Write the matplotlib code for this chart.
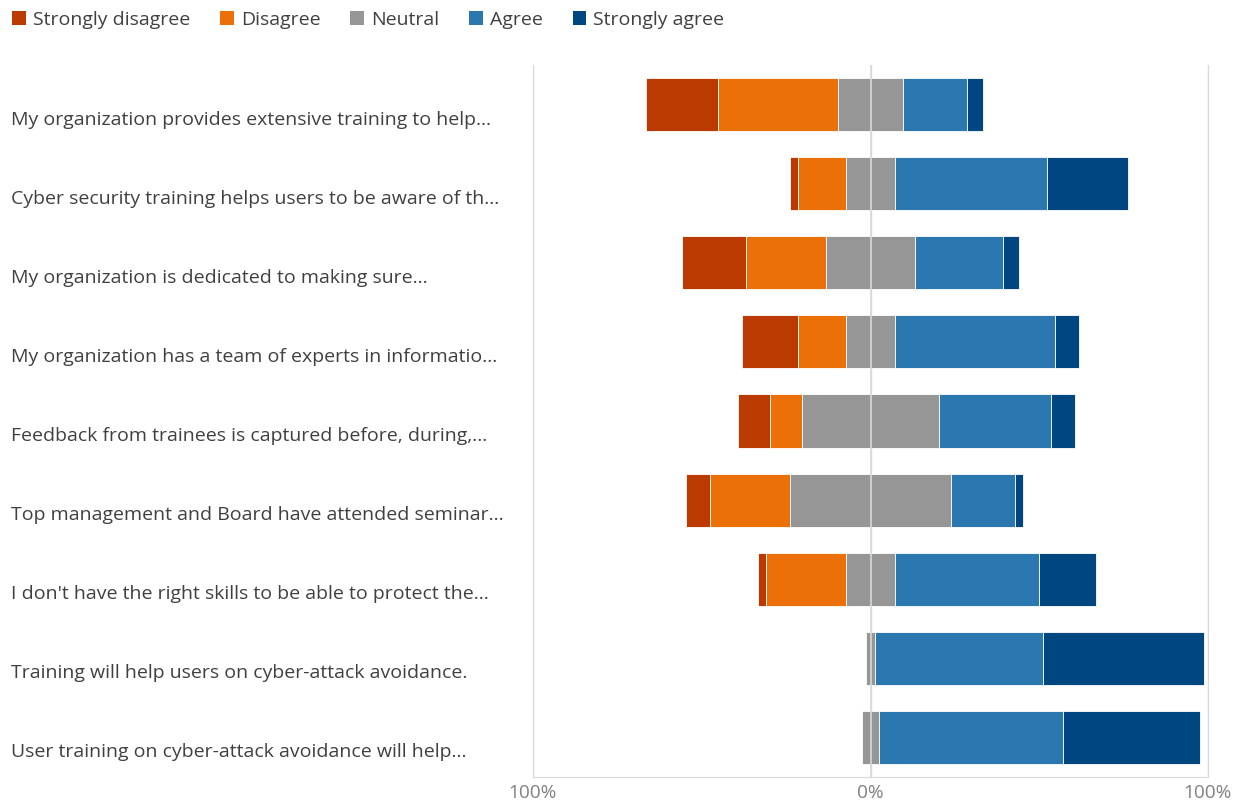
import matplotlib.pyplot as plt
from matplotlib.patches import Patch
from matplotlib import transforms

plt.rcParams['font.family'] = ['Open Sans', 'DejaVu Sans']

# responses per statement (n = 42)
statements = [
    "My organization provides extensive training to help...",
    "Cyber security training helps users to be aware of th...",
    "My organization is dedicated to making sure...",
    "My organization has a team of experts in informatio...",
    "Feedback from trainees is captured before, during,...",
    "Top management and Board have attended seminar...",
    "I don't have the right skills to be able to protect the...",
    "Training will help users on cyber-attack avoidance.",
    "User training on cyber-attack avoidance will help...",
]
strongly_disagree = [9, 1, 8, 7, 4, 3, 1, 0, 0]
disagree = [15, 6, 10, 6, 4, 10, 10, 0, 0]
neutral = [8, 6, 11, 6, 17, 20, 6, 1, 2]
agree = [8, 19, 11, 20, 14, 8, 18, 21, 23]
strongly_agree = [2, 10, 2, 3, 3, 1, 7, 20, 17]
n_resp = 42

categories = ['Strongly disagree', 'Disagree', 'Neutral', 'Agree', 'Strongly agree']
colors = ['#BA3A02', '#EA7007', '#969696', '#2B78B0', '#004680']

fig = plt.figure(figsize=(12.51, 8.05), dpi=100)
ax = fig.add_axes([533 / 1251, 28 / 805, 675 / 1251, 712 / 805])

for i in range(len(statements)):
    sd = strongly_disagree[i] / n_resp * 100
    d = disagree[i] / n_resp * 100
    ne = neutral[i] / n_resp * 100
    a = agree[i] / n_resp * 100
    sa = strongly_agree[i] / n_resp * 100
    start = -(sd + d + ne / 2)
    widths = [sd, d, ne, a, sa]
    for w, c in zip(widths, colors):
        if w > 0:
            ax.barh(i, w, left=start, height=0.67, color=c,
                    edgecolor='#ffffff', linewidth=0.6, zorder=2)
        start += w

ax.axvline(0, color='#d9d9d9', linewidth=1.2, zorder=3)
ax.set_xlim(-100, 100)
ax.set_ylim(len(statements) - 0.5, -0.5)

ax.set_xticks([-100, 0, 100])
ax.set_xticklabels(['100%', '0%', '100%'])
ax.tick_params(axis='x', length=0, labelsize=13.7, labelcolor='#808080', pad=5)
ax.set_yticks([])
ax.grid(axis='x', color='#d9d9d9', linewidth=1, zorder=0)
ax.spines['top'].set_visible(False)
for side in ['left', 'right', 'bottom']:
    ax.spines[side].set_color('#d9d9d9')

trans = transforms.blended_transform_factory(fig.transFigure, ax.transData)
for i, s in enumerate(statements):
    ax.text(11 / 1251, i + 0.19, s, transform=trans, ha='left', va='center',
            fontsize=14, color='#404040')

handles = [Patch(facecolor=c, edgecolor='none') for c in colors]
fig.legend(handles, categories, loc='upper left', bbox_to_anchor=(-0.004, 1.008),
           ncol=5, frameon=False, fontsize=14, handlelength=0.7, handleheight=0.7,
           handletextpad=0.35, columnspacing=1.55, labelcolor='#404040')

plt.savefig('out.png', dpi=100)
